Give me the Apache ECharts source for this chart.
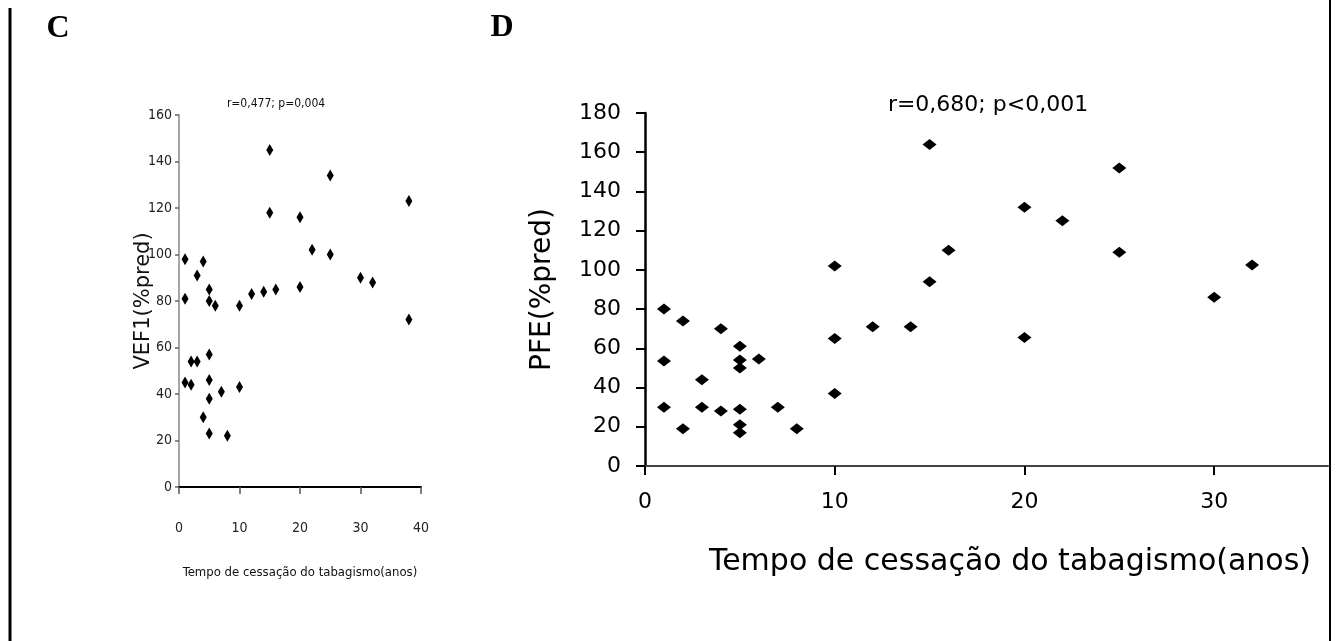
<!DOCTYPE html>
<html>
<head>
<meta charset="utf-8">
<script src="https://cdn.jsdelivr.net/npm/echarts@6/dist/echarts.min.js"></script>
<style>
html,body{margin:0;padding:0;background:#fff;}
#chart{width:1336px;height:641px;}
</style>
</head>
<body>
<div id="chart"></div>
<script>
// Panel C: VEF1 (%pred) vs years since smoking cessation
const vefYears = [1,1,1,2,2,3,3,4,4,5,5,5,5,5,5,6,7,8,10,10,12,14,15,15,16,20,20,22,25,25,30,32,38,38];
const vefValues = [98,81,45,54,44,54,91,97,30,85,80,57,46,38,23,78,41,22,78,43,83,84,145,118,85,116,86,102,134,100,90,88,123,72];
// Panel D: PFE (%pred) vs years since smoking cessation
const pfeYears = [1,1,1,2,2,3,3,4,4,5,5,5,5,5,5,6,7,8,10,10,10,12,14,15,15,16,20,20,22,25,25,30,32];
const pfeValues = [80,53.5,30,74,19,44,30,70,28,61,54,50,29,21,17,54.5,30,19,102,65,37,71,71,164,94,110,132,65.5,125,152,109,86,102.5];
const xTicksC = [0,10,20,30,40];
const yTicksC = [0,20,40,60,80,100,120,140,160];
const xTicksD = [0,10,20,30];
const yTicksD = [0,20,40,60,80,100,120,140,160,180];
const titleC = 'r=0,477; p=0,004';
const titleD = 'r=0,680; p<0,001';
const xName = 'Tempo de cessação do tabagismo(anos)';

const pairs = (xs, ys) => xs.map((x, i) => [x, ys[i]]);
const narrow = '"Liberation Sans Narrow","Arial Narrow","DejaVu Sans Condensed",sans-serif';
const wide = '"DejaVu Sans",sans-serif';

const chart = echarts.init(document.getElementById('chart'), null, {renderer: 'canvas'});
chart.setOption({
  animation: false,
  backgroundColor: '#ffffff',
  grid: [
    {left: 179, top: 115, width: 242, height: 372},
    {left: 645, top: 113, width: 683, height: 353}
  ],
  xAxis: [
    {
      gridIndex: 0, type: 'value', min: xTicksC[0], max: xTicksC[xTicksC.length - 1], interval: 10,
      splitLine: {show: false},
      axisLine: {onZero: false, lineStyle: {color: '#000', width: 2}},
      axisTick: {inside: false, length: 7, lineStyle: {color: '#555', width: 1.5}},
      axisLabel: {margin: 34, color: '#222', fontFamily: narrow, fontSize: 14},
      name: xName, nameLocation: 'middle', nameGap: 79, nameMoveOverlap: false,
      nameTextStyle: {color: '#111', fontFamily: narrow, fontSize: 13}
    },
    {
      gridIndex: 1, type: 'value', min: xTicksD[0], max: 36, interval: 10,
      splitLine: {show: false},
      axisLine: {onZero: false, lineStyle: {color: '#444', width: 2}},
      axisTick: {inside: false, length: 9, lineStyle: {color: '#000', width: 2}},
      axisLabel: {margin: 25, color: '#000', fontFamily: wide, fontSize: 22, showMaxLabel: false},
      name: xName, nameLocation: 'middle', nameGap: 81, nameMoveOverlap: false,
      nameTextStyle: {color: '#000', fontFamily: wide, fontSize: 30, padding: [0, 0, 0, 47]}
    }
  ],
  yAxis: [
    {
      gridIndex: 0, type: 'value', min: yTicksC[0], max: yTicksC[yTicksC.length - 1], interval: 20,
      splitLine: {show: false},
      axisLine: {show: true, onZero: false, lineStyle: {color: '#888', width: 1.5}},
      axisTick: {show: true, inside: false, length: 4, lineStyle: {color: '#666', width: 1.5}},
      axisLabel: {margin: 7, color: '#222', fontFamily: narrow, fontSize: 14},
      name: 'VEF1(%pred)', nameLocation: 'middle', nameGap: 25, nameRotate: 90, nameMoveOverlap: false,
      nameTextStyle: {color: '#111', fontFamily: wide, fontSize: 21}
    },
    {
      gridIndex: 1, type: 'value', min: yTicksD[0], max: yTicksD[yTicksD.length - 1], interval: 20,
      splitLine: {show: false},
      axisLine: {show: true, onZero: false, lineStyle: {color: '#000', width: 2.5}},
      axisTick: {show: true, inside: false, length: 9, lineStyle: {color: '#000', width: 2}},
      axisLabel: {margin: 24, color: '#000', fontFamily: wide, fontSize: 22},
      name: 'PFE(%pred)', nameLocation: 'middle', nameGap: 88, nameRotate: 90, nameMoveOverlap: false,
      nameTextStyle: {color: '#000', fontFamily: wide, fontSize: 28}
    }
  ],
  series: [
    {
      type: 'scatter', xAxisIndex: 0, yAxisIndex: 0,
      data: pairs(vefYears, vefValues),
      symbol: 'diamond', symbolSize: [7, 12],
      itemStyle: {color: '#000', opacity: 1}
    },
    {
      type: 'scatter', xAxisIndex: 1, yAxisIndex: 1,
      data: pairs(pfeYears, pfeValues),
      symbol: 'diamond', symbolSize: [14, 11],
      itemStyle: {color: '#000', opacity: 1}
    }
  ],
  graphic: [
    {type: 'line', shape: {x1: 10, y1: 8, x2: 10, y2: 641}, style: {stroke: '#000', lineWidth: 3}},
    {type: 'line', shape: {x1: 1330, y1: 0, x2: 1330, y2: 641}, style: {stroke: '#000', lineWidth: 2}},
    {type: 'text', x: 58, y: 29, style: {text: 'C', font: 'bold 32px "Liberation Serif", serif', fill: '#000', textAlign: 'center', textVerticalAlign: 'middle'}},
    {type: 'text', x: 502, y: 28, style: {text: 'D', font: 'bold 32px "Liberation Serif", serif', fill: '#000', textAlign: 'center', textVerticalAlign: 'middle'}},
    {type: 'text', x: 276, y: 104, style: {text: titleC, font: '12px ' + narrow, fill: '#111', textAlign: 'center', textVerticalAlign: 'middle'}},
    {type: 'text', x: 988, y: 105, style: {text: titleD, font: '22px ' + wide, fill: '#000', textAlign: 'center', textVerticalAlign: 'middle'}}
  ]
});
</script>
</body>
</html>
